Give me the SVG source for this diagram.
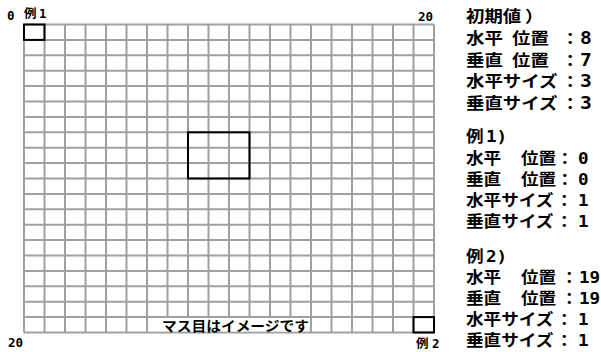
<svg xmlns="http://www.w3.org/2000/svg" width="601" height="352" viewBox="0 0 601 352">
<defs>
<style>
.grid line{stroke:#a0a0a0;stroke-width:2}
.box{fill:none;stroke:#000;stroke-width:2}
.j{font-family:"Noto Sans CJK JP","Noto Sans CJK SC",sans-serif;font-weight:bold;fill:#000}
.m{font-family:"DejaVu Sans Mono","Liberation Mono",monospace;font-weight:bold;fill:#000}
.p{font-size:16px}
.a{font-size:17px}
.b{font-size:16px}
.s{font-size:12.5px}
</style>
</defs>
<rect x="0" y="0" width="601" height="352" fill="#fff"/>
<g id="grid" class="grid">
<line x1="24" y1="24.5" x2="24" y2="332.5"/><line x1="44.5" y1="24.5" x2="44.5" y2="332.5"/><line x1="65" y1="24.5" x2="65" y2="332.5"/><line x1="85.5" y1="24.5" x2="85.5" y2="332.5"/><line x1="106" y1="24.5" x2="106" y2="332.5"/><line x1="126.5" y1="24.5" x2="126.5" y2="332.5"/><line x1="147" y1="24.5" x2="147" y2="332.5"/><line x1="167.5" y1="24.5" x2="167.5" y2="332.5"/><line x1="188" y1="24.5" x2="188" y2="332.5"/><line x1="208.5" y1="24.5" x2="208.5" y2="332.5"/><line x1="229" y1="24.5" x2="229" y2="332.5"/><line x1="249.5" y1="24.5" x2="249.5" y2="332.5"/><line x1="270" y1="24.5" x2="270" y2="332.5"/><line x1="290.5" y1="24.5" x2="290.5" y2="332.5"/><line x1="311" y1="24.5" x2="311" y2="332.5"/><line x1="331.5" y1="24.5" x2="331.5" y2="332.5"/><line x1="352" y1="24.5" x2="352" y2="332.5"/><line x1="372.5" y1="24.5" x2="372.5" y2="332.5"/><line x1="393" y1="24.5" x2="393" y2="332.5"/><line x1="413.5" y1="24.5" x2="413.5" y2="332.5"/><line x1="434" y1="24.5" x2="434" y2="332.5"/>
<line x1="24" y1="24.5" x2="434" y2="24.5"/><line x1="24" y1="39.9" x2="434" y2="39.9"/><line x1="24" y1="55.3" x2="434" y2="55.3"/><line x1="24" y1="70.7" x2="434" y2="70.7"/><line x1="24" y1="86.1" x2="434" y2="86.1"/><line x1="24" y1="101.5" x2="434" y2="101.5"/><line x1="24" y1="116.9" x2="434" y2="116.9"/><line x1="24" y1="132.3" x2="434" y2="132.3"/><line x1="24" y1="147.7" x2="434" y2="147.7"/><line x1="24" y1="163.1" x2="434" y2="163.1"/><line x1="24" y1="178.5" x2="434" y2="178.5"/><line x1="24" y1="193.9" x2="434" y2="193.9"/><line x1="24" y1="209.3" x2="434" y2="209.3"/><line x1="24" y1="224.7" x2="434" y2="224.7"/><line x1="24" y1="240.1" x2="434" y2="240.1"/><line x1="24" y1="255.5" x2="434" y2="255.5"/><line x1="24" y1="270.9" x2="434" y2="270.9"/><line x1="24" y1="286.3" x2="434" y2="286.3"/><line x1="24" y1="301.7" x2="434" y2="301.7"/><line x1="24" y1="317.1" x2="434" y2="317.1"/><line x1="24" y1="332.5" x2="434" y2="332.5"/>
</g>
<g id="note">
<rect x="149" y="318.2" width="160.5" height="13.2" fill="#fff"/>
<text class="j" x="162" y="330.5" font-size="14" textLength="147" lengthAdjust="spacingAndGlyphs">マス目はイメージです</text>
</g>
<g id="box-ex1"><rect class="box" x="24" y="24.5" width="20.5" height="15.4"/></g>
<g id="box-initial"><rect class="box" x="188" y="132.3" width="61.5" height="46.2"/></g>
<g id="box-ex2"><rect class="box" x="413.5" y="317.1" width="20.5" height="15.4"/></g>
<g id="axis-labels">
<text class="m s" x="7" y="20">0</text>
<text class="j s" y="18"><tspan x="24">例</tspan><tspan class="m" x="39">1</tspan></text>
<text class="m s" x="418" y="21">20</text>
<text class="m s" x="8" y="347">20</text>
<text class="j s" y="348"><tspan x="416">例</tspan><tspan class="m" x="432">2</tspan></text>
</g>
<g id="info-initial" class="j p">
<text transform="scale(1.15,1)" y="22"><tspan x="405.22">初期値</tspan><tspan x="456.5">）</tspan></text>
<text transform="scale(1.15,1)" y="44"><tspan x="405.22">水平</tspan><tspan x="445.22">位置</tspan><tspan x="487.83">：</tspan><tspan class="m a" x="504.35">8</tspan></text>
<text transform="scale(1.15,1)" y="66"><tspan x="405.22">垂直</tspan><tspan x="445.22">位置</tspan><tspan x="487.83">：</tspan><tspan class="m a" x="504.35">7</tspan></text>
<text transform="scale(1.15,1)" y="87.5"><tspan x="405.22">水平サイズ</tspan><tspan x="487.83">：</tspan><tspan class="m a" x="504.35">3</tspan></text>
<text transform="scale(1.15,1)" y="109.5"><tspan x="405.22">垂直サイズ</tspan><tspan x="487.83">：</tspan><tspan class="m a" x="504.35">3</tspan></text>
</g>
<g id="info-ex1" class="j p">
<text transform="scale(1.1,1)" y="142"><tspan x="423.64">例</tspan><tspan class="m b" x="441.82">1)</tspan></text>
<text transform="scale(1.1,1)" y="164"><tspan x="423.64">水平</tspan><tspan x="473.64">位置</tspan><tspan x="505.45">：</tspan><tspan class="m b" x="525.45">0</tspan></text>
<text transform="scale(1.1,1)" y="185"><tspan x="423.64">垂直</tspan><tspan x="473.64">位置</tspan><tspan x="505.45">：</tspan><tspan class="m b" x="525.45">0</tspan></text>
<text transform="scale(1.1,1)" y="206"><tspan x="423.64">水平サイズ</tspan><tspan x="505">：</tspan><tspan class="m b" x="525.45">1</tspan></text>
<text transform="scale(1.1,1)" y="227"><tspan x="423.64">垂直サイズ</tspan><tspan x="505">：</tspan><tspan class="m b" x="525.45">1</tspan></text>
</g>
<g id="info-ex2" class="j p">
<text transform="scale(1.1,1)" y="262"><tspan x="423.64">例</tspan><tspan class="m b" x="441.82">2)</tspan></text>
<text transform="scale(1.1,1)" y="283"><tspan x="423.64">水平</tspan><tspan x="473.64">位置</tspan><tspan x="509.55">：</tspan><tspan class="m b" x="526.36">19</tspan></text>
<text transform="scale(1.1,1)" y="304"><tspan x="423.64">垂直</tspan><tspan x="473.64">位置</tspan><tspan x="509.55">：</tspan><tspan class="m b" x="526.36">19</tspan></text>
<text transform="scale(1.1,1)" y="325"><tspan x="423.64">水平サイズ</tspan><tspan x="505">：</tspan><tspan class="m b" x="525.45">1</tspan></text>
<text transform="scale(1.1,1)" y="346"><tspan x="423.64">垂直サイズ</tspan><tspan x="505">：</tspan><tspan class="m b" x="525.45">1</tspan></text>
</g>
</svg>
